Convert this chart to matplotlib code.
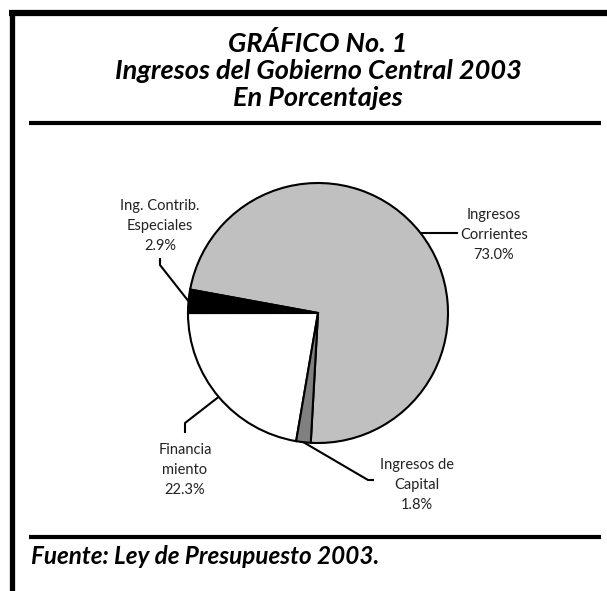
import numpy as np
import matplotlib
matplotlib.use("Agg")
import matplotlib.pyplot as plt

# data
categories = ["Ingresos\nCorrientes", "Ing. Contrib.\nEspeciales", "Financia\nmiento", "Ingresos de\nCapital"]
values = [73.0, 2.9, 22.3, 1.8]
colors = ["#c0c0c0", "#000000", "#ffffff", "#808080"]

W, H = 607, 591
plt.rcParams["font.family"] = ["Lato", "DejaVu Sans"]

fig = plt.figure(figsize=(W / 100, H / 100), dpi=100)
ax = fig.add_axes([0, 0, 1, 1])


def Y(y):
    # pixel row (from top) to axes y
    return H - y


# pie, centre and radius in pixel units
cx, cy, r = 318, 313, 130
wedges, _ = ax.pie(values, colors=colors, startangle=266.8, counterclock=True,
                   center=(cx, Y(cy)), radius=r,
                   wedgeprops=dict(edgecolor="black", linewidth=1.5))

# label layout: (elbow point, end point, text centre)
layout = [
    [(458, None), None, (494, 235)],
    [(160, 265), (160, 258), (160, 226)],
    [(185, 423), (185, 433), (185, 470)],
    [(368, 480), (374, 480), (417, 485)],
]
for w, cat, v, (p1, p2, tpos) in zip(wedges, categories, values, layout):
    mid = np.deg2rad((w.theta1 + w.theta2) / 2)
    ex, ey = cx + r * np.cos(mid), cy - r * np.sin(mid)
    xs, ys = [ex], [ey]
    if p1[1] is None:
        xs.append(p1[0]); ys.append(ey)
    else:
        xs.append(p1[0]); ys.append(p1[1])
    if p2 is not None:
        xs.append(p2[0]); ys.append(p2[1])
    ax.plot(xs, [Y(y) for y in ys], color="black", lw=1.5, solid_capstyle="butt")
    ax.text(tpos[0], Y(tpos[1]), f"{cat}\n{v:.1f}%", ha="center", va="center",
            fontsize=10.5, linespacing=1.55, color="#222222")

# frame
ax.plot([9, W], [Y(13), Y(13)], color="black", lw=4.5, solid_capstyle="butt")
ax.plot([11.5, 11.5], [Y(10), 0], color="black", lw=3.8, solid_capstyle="butt")
ax.plot([29, 601], [Y(123), Y(123)], color="black", lw=3, solid_capstyle="butt")
ax.plot([29, 601], [Y(536.5), Y(536.5)], color="black", lw=3, solid_capstyle="butt")

# titles
title_kw = dict(ha="center", va="center", fontsize=19.5, fontweight="bold", style="italic")
ax.text(318, Y(43), "GRÁFICO No. 1", **title_kw)
ax.text(318, Y(71), "Ingresos del Gobierno Central 2003", **title_kw)
ax.text(318, Y(98), "En Porcentajes", **title_kw)
ax.text(31, Y(557), "Fuente: Ley de Presupuesto 2003.", ha="left", va="center",
        fontsize=17.5, fontweight="bold", style="italic")

ax.set_xlim(0, W)
ax.set_ylim(0, H)
ax.set_aspect("equal")
ax.axis("off")

fig.savefig("out.png", dpi=100)
